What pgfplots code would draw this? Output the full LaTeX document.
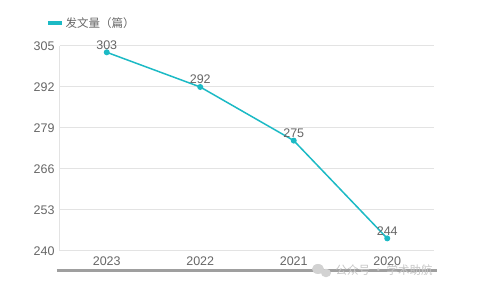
\documentclass[border=0pt]{standalone}
\usepackage{pgfplots}
\pgfplotsset{compat=1.18}
\usepackage{fontspec}
\setmainfont{Liberation Sans}
\newfontfamily\cjk{Noto Sans CJK SC}
\definecolor{teal1}{HTML}{1CBAC5}
\definecolor{txt}{HTML}{666666}
\definecolor{gridc}{HTML}{E3E3E3}
\begin{document}
\begin{tikzpicture}
\begin{axis}[
  scale only axis, width=374pt, height=205pt,
  xmin=-0.5, xmax=3.5, ymin=240, ymax=305,
  xtick={0,1,2,3}, xticklabels={2023,2022,2021,2020},
  ytick={240,253,266,279,292,305},
  ymajorgrids, grid style={gridc, line width=1pt},
  axis x line*=bottom, axis y line*=left,
  axis line style={gridc, line width=1pt, -},
  major tick length=0pt,
  tick label style={font=\fontsize{12.5}{12.5}\selectfont, text=txt},
  xticklabel style={yshift=-2pt},
  yticklabel style={xshift=-2pt},
  /pgf/number format/assume math mode=true,
  clip=false,
  legend style={at={(-17pt,228pt)}, anchor=west, draw=none, fill=none,
     font=\fontsize{11.5}{12}\selectfont, text=txt, legend cell align=left},
  legend image code/.code={\draw[teal1, line width=3.5pt] (0pt,0pt) -- (14pt,0pt);},
]
\coordinate (O) at (rel axis cs:0,0);
\addplot[teal1, line width=1.5pt, mark=*, mark size=2.2pt,
  nodes near coords, point meta=explicit symbolic,
  every node near coord/.style={font=\fontsize{12.5}{12.5}\selectfont, text=txt, yshift=-1pt}]
  coordinates {(0,303)[303] (1,292)[292] (2,275)[275] (3,244)[244]};
\addlegendentry{\cjk 发文量（篇）}
\end{axis}
\pgfresetboundingbox
\path[use as bounding box] ([shift={(-60pt,-45pt)}]O) rectangle ([shift={(436pt,251pt)}]O);
\draw[gray!75, line width=3pt] ([shift={(-3pt,-20pt)}]O) -- ([shift={(377pt,-20pt)}]O);
\fill[gray!35] ([shift={(258pt,-18pt)}]O) ellipse (6pt and 5pt);
\fill[gray!35] ([shift={(266pt,-22pt)}]O) ellipse (5pt and 4.2pt);
\node[anchor=west, text=gray!45, font=\cjk\fontsize{11.5}{12}\selectfont] at ([shift={(272pt,-19pt)}]O) {公众号 · 学术助航};
\end{tikzpicture}
\end{document}
